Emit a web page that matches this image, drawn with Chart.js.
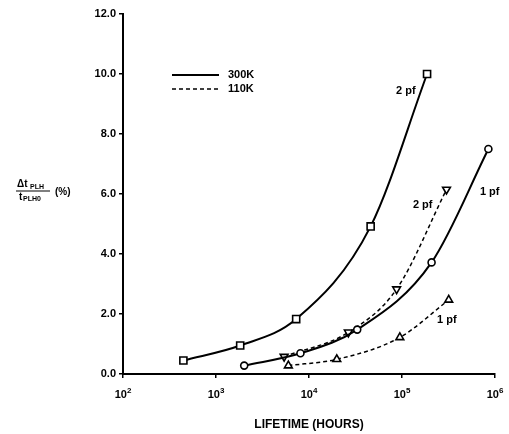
<!DOCTYPE html>
<html><head><meta charset="utf-8">
<script src="https://cdn.jsdelivr.net/npm/chart.js@4/dist/chart.umd.min.js"></script>
<style>html,body{margin:0;padding:0;background:#fff;}#wrap{width:509px;height:434px;}</style>
</head><body><div id="wrap"><canvas id="c" width="509" height="434"></canvas></div>
<script>
// Data (lifetime in hours, delta tPLH in %)
const sq300_x = [446, 1820, 7280, 46000, 186000];
const sq300_y = [0.45, 0.95, 1.83, 4.92, 10.0];
const ci300_x = [2010, 8090, 33000, 208000, 849000];
const ci300_y = [0.28, 0.69, 1.48, 3.72, 7.5];
const it110_x = [5400, 26500, 87500, 301000];
const it110_y = [0.58, 1.39, 2.83, 6.15];
const tr110_x = [6000, 19900, 94800, 318000];
const tr110_y = [0.28, 0.49, 1.22, 2.47];
const xTicks = [100, 1000, 10000, 100000, 1000000];
const xTickExponents = ['2', '3', '4', '5', '6'];
const yTicks = [0, 2, 4, 6, 8, 10, 12];
const curveLabels = [
  {text: '2 pf', x: 110000, y: 9.43},
  {text: '2 pf', x: 167000, y: 5.63},
  {text: '1 pf', x: 877000, y: 6.07},
  {text: '1 pf', x: 303000, y: 1.8}
];

const FONT = '"Liberation Sans", Arial, sans-serif';
const pts = (xs, ys) => xs.map((x, i) => ({x: x, y: ys[i]}));

const base = {borderColor: '#000', pointBorderColor: '#000', pointBackgroundColor: '#fff',
  borderWidth: 2, pointBorderWidth: 1.6, cubicInterpolationMode: 'monotone', fill: false};

const overlay = {
  id: 'overlay',
  afterDraw(chart) {
    const ctx = chart.ctx;
    const xs = chart.scales.x, ys = chart.scales.y;
    ctx.save();
    ctx.fillStyle = '#000';
    ctx.strokeStyle = '#000';
    ctx.textBaseline = 'middle';
    ctx.font = 'bold 11px ' + FONT;
    curveLabels.forEach(l => {
      ctx.textAlign = 'center';
      ctx.fillText(l.text, xs.getPixelForValue(l.x), ys.getPixelForValue(l.y));
    });
    // x tick labels: 10 with superscript exponent
    const tickY = xs.top + 21;
    xTicks.forEach((v, i) => {
      const px = xs.getPixelForValue(v);
      ctx.font = 'bold 11px ' + FONT;
      const w1 = ctx.measureText('10').width;
      ctx.font = 'bold 8px ' + FONT;
      const w2 = ctx.measureText(xTickExponents[i]).width;
      const start = px - (w1 + w2) / 2;
      ctx.textAlign = 'left';
      ctx.font = 'bold 11px ' + FONT;
      ctx.fillText('10', start, tickY);
      ctx.font = 'bold 8px ' + FONT;
      ctx.fillText(xTickExponents[i], start + w1, tickY - 4);
    });
    // legend
    ctx.lineWidth = 2;
    ctx.setLineDash([]);
    ctx.beginPath(); ctx.moveTo(172, 75); ctx.lineTo(219, 75); ctx.stroke();
    ctx.lineWidth = 1.5;
    ctx.setLineDash([4, 3]);
    ctx.beginPath(); ctx.moveTo(172, 89); ctx.lineTo(219, 89); ctx.stroke();
    ctx.setLineDash([]);
    ctx.textAlign = 'left';
    ctx.font = 'bold 11px ' + FONT;
    ctx.fillText('300K', 228, 75);
    ctx.fillText('110K', 228, 89);
    // y-axis label (fraction)
    ctx.font = 'bold 10px ' + FONT;
    ctx.textAlign = 'left';
    ctx.fillText('Δt', 17, 184);
    ctx.font = 'bold 7px ' + FONT;
    ctx.fillText('PLH', 30, 187);
    ctx.lineWidth = 1.2;
    ctx.beginPath(); ctx.moveTo(16, 191); ctx.lineTo(50, 191); ctx.stroke();
    ctx.font = 'bold 10px ' + FONT;
    ctx.fillText('t', 19, 197);
    ctx.font = 'bold 7px ' + FONT;
    ctx.fillText('PLH0', 23, 199);
    ctx.font = 'bold 10px ' + FONT;
    ctx.fillText('(%)', 55, 192);
    ctx.restore();
  }
};

new Chart(document.getElementById('c'), {
  type: 'line',
  data: {
    datasets: [
      Object.assign({label: '300K 2pf', data: pts(sq300_x, sq300_y), pointStyle: 'rect', pointRadius: 5}, base),
      Object.assign({label: '300K 1pf', data: pts(ci300_x, ci300_y), pointStyle: 'circle', pointRadius: 3.5}, base),
      Object.assign({label: '110K 2pf', data: pts(it110_x, it110_y), pointStyle: 'triangle', rotation: 180, pointRadius: 4.5, borderDash: [4, 3]}, base, {borderWidth: 1.5}),
      Object.assign({label: '110K 1pf', data: pts(tr110_x, tr110_y), pointStyle: 'triangle', pointRadius: 4.5, borderDash: [4, 3]}, base, {borderWidth: 1.5})
    ]
  },
  options: {
    responsive: false,
    animation: false,
    layout: {padding: {top: 14, right: 14, left: 0, bottom: 0}},
    plugins: {legend: {display: false}, tooltip: {enabled: false}},
    scales: {
      x: {
        type: 'logarithmic', min: 100, max: 1000000,
        afterBuildTicks: s => { s.ticks = xTicks.map(v => ({value: v, major: true})); },
        afterFit: s => { s.height = 60; },
        ticks: {display: false},
        grid: {display: true, drawOnChartArea: false, drawTicks: true, tickLength: 4, color: '#000', lineWidth: 1.5},
        border: {display: true, color: '#000', width: 2},
        title: {display: true, text: 'LIFETIME (HOURS)', color: '#000', font: {family: FONT, weight: 'bold', size: 12}, padding: {top: 12, bottom: 2}}
      },
      y: {
        min: 0, max: 12,
        afterBuildTicks: s => { s.ticks = yTicks.map(v => ({value: v})); },
        afterFit: s => { s.width = 123; },
        ticks: {color: '#000', font: {family: FONT, weight: 'bold', size: 11}, padding: 3,
          callback: v => Number(v).toFixed(1)},
        grid: {display: true, drawOnChartArea: false, drawTicks: true, tickLength: 4, color: '#000', lineWidth: 1.5},
        border: {display: true, color: '#000', width: 2}
      }
    }
  },
  plugins: [overlay]
});
</script></body></html>
